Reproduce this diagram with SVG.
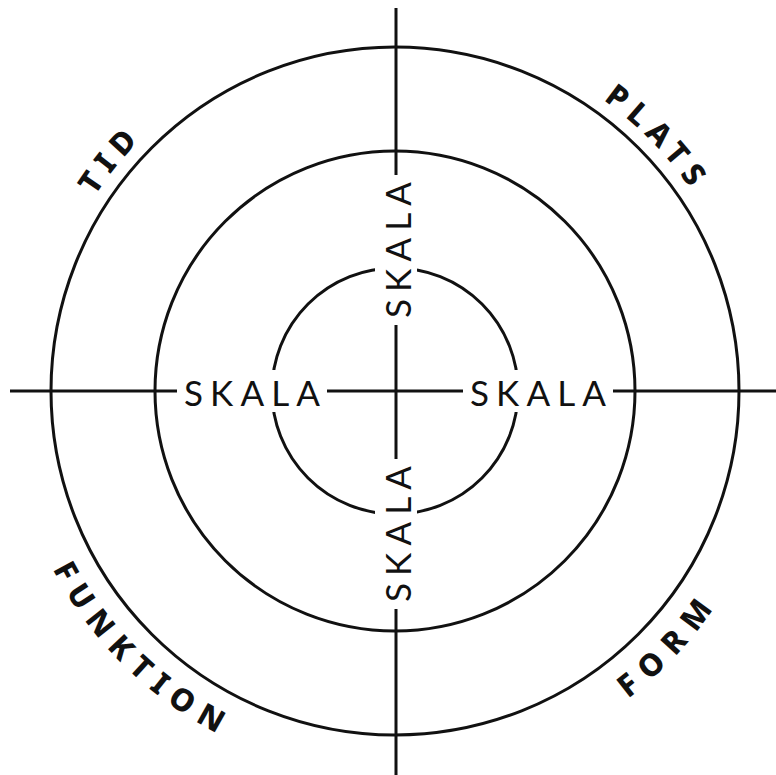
<svg xmlns="http://www.w3.org/2000/svg" width="776" height="775" viewBox="0 0 776 775">
  <style>
    .ln { stroke: #111; stroke-width: 3; fill: none; }
    .ko { fill: #fff; }
    .sk { font-family: Lato, "Noto Sans", "Liberation Sans", sans-serif; font-size: 35px; fill: #111; text-anchor: middle; dominant-baseline: central; }
    .lb { font-family: "Noto Sans", "Liberation Sans", sans-serif; font-weight: 800; font-size: 31px; fill: #111; text-anchor: middle; }
  </style>
  <defs>
    <path id="topArc" d="M 37 391 A 358 358 0 0 1 753 391"/>
    <path id="botArc" d="M 9 391 A 386 386 0 0 0 781 391"/>
  </defs>
  <rect width="776" height="775" fill="#fff"/>
  <g id="axes">
    <line class="ln" x1="10" y1="391" x2="776" y2="391"/>
    <line class="ln" x1="396" y1="8" x2="396" y2="775"/>
  </g>
  <g id="rings">
    <circle class="ln" cx="395" cy="391" r="344"/>
    <circle class="ln" cx="395" cy="391" r="240"/>
    <circle class="ln" cx="395" cy="391" r="123"/>
  </g>
  <g id="skala-left">
    <rect class="ko" x="177" y="370" width="150" height="42"/>
    <text class="sk" x="252" y="392" textLength="136" lengthAdjust="spacing">SKALA</text>
  </g>
  <g id="skala-right">
    <rect class="ko" x="463" y="370" width="150" height="42"/>
    <text class="sk" x="538" y="392" textLength="136" lengthAdjust="spacing">SKALA</text>
  </g>
  <g id="skala-top">
    <rect class="ko" x="375" y="175" width="42" height="150"/>
    <text class="sk" transform="translate(397 250) rotate(-90)" x="0" y="0" textLength="136" lengthAdjust="spacing">SKALA</text>
  </g>
  <g id="skala-bottom">
    <rect class="ko" x="375" y="459" width="42" height="150"/>
    <text class="sk" transform="translate(397 534) rotate(-90)" x="0" y="0" textLength="136" lengthAdjust="spacing">SKALA</text>
  </g>
  <g id="label-tid">
    <text class="lb"><textPath href="#topArc" startOffset="241" textLength="70" lengthAdjust="spacing">TID</textPath></text>
  </g>
  <g id="label-plats">
    <text class="lb"><textPath href="#topArc" startOffset="846" textLength="124" lengthAdjust="spacing">PLATS</textPath></text>
  </g>
  <g id="label-funktion">
    <text class="lb"><textPath href="#botArc" startOffset="303" textLength="236" lengthAdjust="spacing">FUNKTION</textPath></text>
  </g>
  <g id="label-form">
    <text class="lb"><textPath href="#botArc" startOffset="918" textLength="124" lengthAdjust="spacing">FORM</textPath></text>
  </g>
</svg>
